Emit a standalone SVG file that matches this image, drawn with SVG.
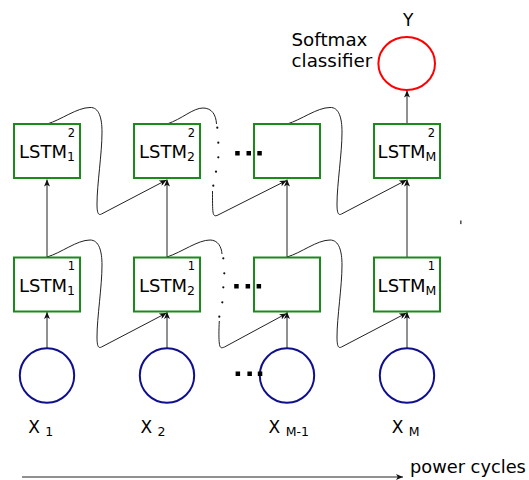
<svg xmlns="http://www.w3.org/2000/svg" width="529" height="480" viewBox="0 0 529 480">
<style>
text{font-family:"DejaVu Sans","Verdana",sans-serif;fill:#000}
.box{fill:#fff;stroke:#1a8a1a;stroke-width:2}
.in{fill:#fff;stroke:#10108c;stroke-width:2}
.out{fill:#fff;stroke:#ff0000;stroke-width:2}
.lbl{font-size:18px;text-anchor:middle}
.sub{font-size:12.5px}
.sup{font-size:11.5px;text-anchor:end}
.big{font-size:18.3px}
.x{font-size:17px}
.ln{fill:none;stroke:#222;stroke-width:1}
.dot{fill:#111}
</style>
<defs>
<marker id="ah" markerUnits="userSpaceOnUse" markerWidth="8" markerHeight="6" refX="7" refY="3" orient="auto">
<path d="M0,0 L7,3 L0,6 L1.8,3 z" fill="#111"/>
</marker>
</defs>

<g id="connectors">
<line class="ln" x1="47" y1="348" x2="47" y2="312" marker-end="url(#ah)"/>
<line class="ln" x1="167" y1="348" x2="167" y2="312" marker-end="url(#ah)"/>
<line class="ln" x1="287" y1="348" x2="287" y2="312" marker-end="url(#ah)"/>
<line class="ln" x1="407" y1="348" x2="407" y2="312" marker-end="url(#ah)"/>
<line class="ln" x1="47" y1="257" x2="47" y2="179.5" marker-end="url(#ah)"/>
<line class="ln" x1="167" y1="257" x2="167" y2="179.5" marker-end="url(#ah)"/>
<line class="ln" x1="287" y1="257" x2="287" y2="179.5" marker-end="url(#ah)"/>
<line class="ln" x1="407" y1="257" x2="407" y2="179.5" marker-end="url(#ah)"/>
<line class="ln" x1="407" y1="124" x2="407" y2="90.5" marker-end="url(#ah)"/>
<path class="ln" d="M47,124 C61,120 77,107.5 90,107.5 C99,107 102,118 102,132 C102,154 97,184 97,204 C97,212 98,216 101.5,214 L166.5,180" marker-end="url(#ah)"/>
<path class="ln" d="M167,124 C182,119 193,108 203,108 C212,108 216,115 216.5,124"/>
<circle class="dot" cx="217.3" cy="127.7" r="1.1"/>
<circle class="dot" cx="218.3" cy="142.7" r="1.1"/>
<circle class="dot" cx="218.3" cy="157.3" r="1.1"/>
<circle class="dot" cx="216" cy="171.7" r="1.1"/>
<circle class="dot" cx="213.3" cy="185.7" r="1.1"/>
<path class="ln" d="M212.5,191 C212.5,200 212.5,209 213,212 C213.5,216 215,216.5 218,215 L286.5,180.5" marker-end="url(#ah)"/>
<path class="ln" d="M287,124 C301,120 317,107.5 330,107.5 C339,107 342,118 342,132 C342,154 337,184 337,204 C337,212 338,216 341.5,214 L406.5,180" marker-end="url(#ah)"/>
<path class="ln" d="M47,257 C61,253 77,240 90,240 C99,240 102,251 102,265 C102,287 97,317 97,337 C97,345 98,349 101.5,347 L166.5,313" marker-end="url(#ah)"/>
<path class="ln" d="M167,257 C182,252 198,240 210,240 C218,240 221.5,247 222,254"/>
<circle class="dot" cx="223.3" cy="258.3" r="1.1"/>
<circle class="dot" cx="224.3" cy="273.3" r="1.1"/>
<circle class="dot" cx="223.3" cy="287.3" r="1.1"/>
<circle class="dot" cx="222.3" cy="302.3" r="1.1"/>
<circle class="dot" cx="219.3" cy="316.7" r="1.1"/>
<path class="ln" d="M219.3,321 C218.8,330 218.8,340 219.3,343 C219.8,348 221,348.5 224.5,347 L286.5,313.5" marker-end="url(#ah)"/>
<path class="ln" d="M287,257 C301,253 317,240 330,240 C339,240 342,251 342,265 C342,287 337,317 337,337 C337,345 338,349 341.5,347 L406.5,313" marker-end="url(#ah)"/>
<line class="ln" x1="22" y1="477" x2="403" y2="477" marker-end="url(#ah)"/>
</g>

<g id="lstm2_1"><rect class="box" x="14" y="124" width="66" height="54"/><text class="lbl" x="47" y="158">LSTM<tspan class="sub" dy="3">1</tspan></text><text class="sup" x="75" y="137">2</text></g>
<g id="lstm2_2"><rect class="box" x="134" y="124" width="66" height="54"/><text class="lbl" x="167" y="158">LSTM<tspan class="sub" dy="3">2</tspan></text><text class="sup" x="195" y="137">2</text></g>
<g id="lstm2_3"><rect class="box" x="254" y="124" width="66" height="54"/></g>
<g id="lstm2_M"><rect class="box" x="374" y="124" width="66" height="54"/><text class="lbl" x="407" y="158">LSTM<tspan class="sub" dy="3">M</tspan></text><text class="sup" x="435" y="137">2</text></g>

<g id="lstm1_1"><rect class="box" x="14" y="257.5" width="66" height="54"/><text class="lbl" x="47" y="291.5">LSTM<tspan class="sub" dy="3">1</tspan></text><text class="sup" x="75" y="270">1</text></g>
<g id="lstm1_2"><rect class="box" x="134" y="257.5" width="66" height="54"/><text class="lbl" x="167" y="291.5">LSTM<tspan class="sub" dy="3">2</tspan></text><text class="sup" x="195" y="270">1</text></g>
<g id="lstm1_3"><rect class="box" x="254" y="257.5" width="66" height="54"/></g>
<g id="lstm1_M"><rect class="box" x="374" y="257.5" width="66" height="54"/><text class="lbl" x="407" y="291.5">LSTM<tspan class="sub" dy="3">M</tspan></text><text class="sup" x="435" y="270">1</text></g>

<g id="ellipsis">
<rect x="235.2" y="151" width="4.5" height="4.5" fill="#000"/><rect x="246.5" y="151" width="4.5" height="4.5" fill="#000"/><rect x="257.3" y="151" width="4.5" height="4.5" fill="#000"/>
<rect x="234.2" y="284" width="4.5" height="4.5" fill="#000"/><rect x="245.6" y="284" width="4.5" height="4.5" fill="#000"/><rect x="256.6" y="284" width="4.5" height="4.5" fill="#000"/>
</g>

<g id="x1"><circle class="in" cx="47" cy="375.5" r="27.2"/><text class="x" x="28.2" y="432.7">X <tspan class="sub" dy="3.5">1</tspan></text></g>
<g id="x2"><circle class="in" cx="167" cy="375.5" r="27.2"/><text class="x" x="140.5" y="432.7">X <tspan class="sub" dy="3.5">2</tspan></text></g>
<g id="xM1"><circle class="in" cx="287" cy="375.5" r="27.2"/><text class="x" x="268.6" y="432.7">X <tspan class="sub" dy="3.5">M-1</tspan></text></g>
<g id="xM"><circle class="in" cx="407" cy="375.5" r="27.2"/><text class="x" x="391.7" y="432.7">X <tspan class="sub" dy="3.5">M</tspan></text></g>
<g id="ellipsis_in"><rect x="235.6" y="371.5" width="4.5" height="4.5" fill="#000"/><rect x="247.4" y="371.5" width="4.5" height="4.5" fill="#000"/><rect x="257.8" y="371.5" width="4.5" height="4.5" fill="#000"/></g>

<g id="softmax"><ellipse class="out" cx="406.7" cy="63.5" rx="28.3" ry="26.6"/><text class="x" x="408.3" y="26" text-anchor="middle">Y</text><text class="big" x="291.5" y="45.7">Softmax</text><text class="big" x="291.5" y="66.7">classifier</text></g>

<text x="410" y="473" font-size="17.8">power cycles</text>
<rect x="460" y="220.5" width="1.6" height="3.6" fill="#555"/>
</svg>
